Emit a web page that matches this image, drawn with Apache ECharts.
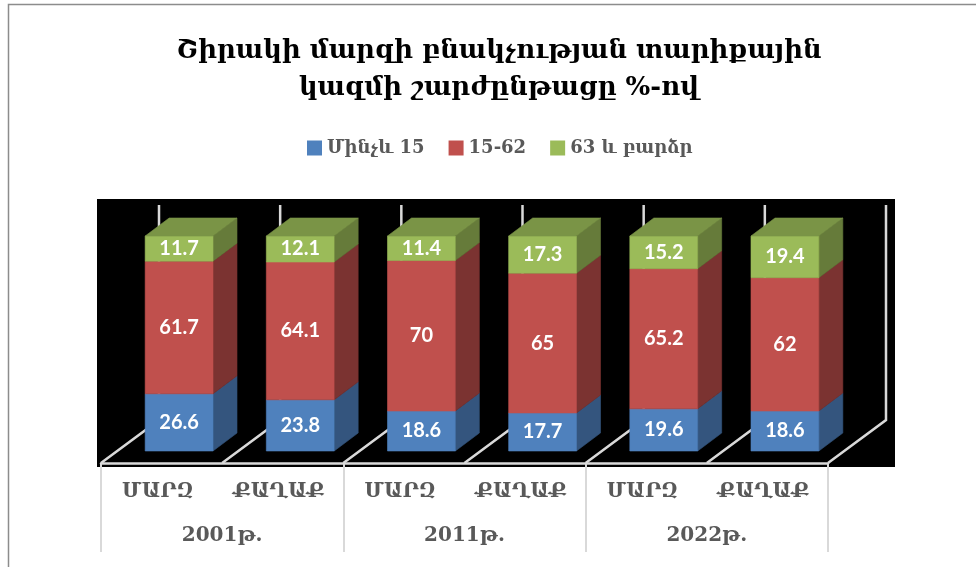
<!DOCTYPE html>
<html>
<head>
<meta charset="utf-8">
<script src="https://cdn.jsdelivr.net/npm/echarts@6/dist/echarts.min.js"></script>
<style>
  html, body { margin: 0; background: #fff; }
  #chart { width: 976px; height: 567px; }
</style>
</head>
<body>
<div id="chart"></div>
<script>
const titleLines = ['Շիրակի մարզի բնակչության տարիքային', 'կազմի շարժընթացը %-ով']
const categories = ['ՄԱՐԶ', 'ՔԱՂԱՔ', 'ՄԱՐԶ', 'ՔԱՂԱՔ', 'ՄԱՐԶ', 'ՔԱՂԱՔ']
const years = ['2001թ.', '2011թ.', '2022թ.']
const seriesNames = ['Մինչև 15', '15-62', '63 և բարձր']
const under15 = [26.6, 23.8, 18.6, 17.7, 19.6, 18.6]
const from15to62 = [61.7, 64.1, 70, 65, 65.2, 62]
const over63 = [11.7, 12.1, 11.4, 17.3, 15.2, 19.4]

const serif = '"DejaVu Serif", serif'
const faces = [
  { front: '#4f81bd', side: '#34557e', top: '#4a6f9e' },
  { front: '#c0504d', side: '#7b3331', top: '#97403d' },
  { front: '#9bbb59', side: '#667b3a', top: '#7a9446' }
]
const wallColor = '#d9d9d9'

// 三维效果：柱子的进深，以及地面相对柱底的偏移
const barDepth = { x: 24, y: 18 }
const floorDepth = { x: 58, y: 43 }
const floorFront = { x: 0, y: 12 }
const barShift = 17.5
const wallTop = 205

function poly(points, color) {
  // 描一圈同色的边，盖住相邻面之间的缝
  return { type: 'polygon', shape: { points }, style: { fill: color, stroke: color, lineWidth: 0.6 } }
}

function renderBar(params, api, face, hasTop) {
  const cat = api.value(0)
  const low = api.coord([cat, api.value(1)])
  const high = api.coord([cat, api.value(2)])
  const width = api.size([1, 0])[0] * 0.56
  const x0 = low[0] - width / 2 + barShift
  const x1 = x0 + width
  const y0 = low[1]
  const y1 = high[1]
  const dx = barDepth.x
  const dy = barDepth.y
  const children = [
    poly([[x1, y0], [x1 + dx, y0 - dy], [x1 + dx, y1 - dy], [x1, y1]], face.side),
    poly([[x0, y0], [x1, y0], [x1, y1], [x0, y1]], face.front)
  ]
  if (hasTop) {
    children.push(poly([[x0, y1], [x1, y1], [x1 + dx, y1 - dy], [x0 + dx, y1 - dy]], face.top))
  }
  children.push({
    type: 'text',
    style: {
      text: String(api.value(3)),
      x: (x0 + x1) / 2,
      y: (y0 + y1) / 2,
      align: 'center',
      verticalAlign: 'middle',
      fill: '#fff',
      font: 'bold 20px Lato, sans-serif'
    }
  })
  return { type: 'group', children }
}

function renderWall(params, api) {
  const cat = api.value(0)
  const point = api.coord([cat, 0])
  const step = api.size([1, 0])[0]
  const floorY = point[1] + floorFront.y
  const edges = cat === categories.length - 1 ? [-step / 2, step / 2] : [-step / 2]
  const children = edges.map(offset => ({
    type: 'polyline',
    shape: {
      points: [
        [point[0] + offset, floorY],
        [point[0] + offset + floorDepth.x, floorY - floorDepth.y],
        [point[0] + offset + floorDepth.x, wallTop]
      ]
    },
    style: { fill: null, stroke: wallColor, lineWidth: 2.5 }
  }))
  return { type: 'group', children }
}

let base = categories.map(() => 0)
const stacks = [under15, from15to62, over63].map(values => {
  const rows = values.map((v, i) => [i, base[i], base[i] + v, v])
  base = base.map((b, i) => b + values[i])
  return rows
})

const chart = echarts.init(document.getElementById('chart'))
chart.setOption({
  animation: false,
  backgroundColor: '#fff',
  title: {
    text: titleLines.join('\n'),
    left: 494,
    top: 28,
    textAlign: 'center',
    textStyle: {
      fontFamily: serif,
      fontSize: 26,
      fontWeight: 'bold',
      lineHeight: 37,
      color: '#000'
    }
  },
  legend: {
    data: seriesNames,
    left: 302,
    top: 134,
    icon: 'rect',
    itemWidth: 15,
    itemHeight: 15,
    itemGap: 24,
    itemStyle: { borderWidth: 0 },
    textStyle: { fontFamily: serif, fontSize: 18, fontWeight: 'bold', color: '#595959' }
  },
  grid: { left: 101, top: 236, width: 727, height: 215 },
  xAxis: [
    {
      type: 'category',
      data: categories,
      position: 'bottom',
      offset: floorFront.y,
      axisLine: { show: false },
      axisTick: { show: false },
      axisLabel: { margin: 19, padding: [0, 8, 0, 0], fontFamily: serif, fontSize: 20, fontWeight: 'bold', color: '#595959' }
    },
    {
      type: 'category',
      data: years,
      position: 'bottom',
      offset: floorFront.y,
      axisLine: { show: true, lineStyle: { color: wallColor, width: 2.5 } },
      axisTick: { show: true, length: 89, lineStyle: { color: wallColor, width: 2 } },
      axisLabel: { margin: 63, fontFamily: serif, fontSize: 20, fontWeight: 'bold', color: '#595959' }
    }
  ],
  yAxis: { type: 'value', min: 0, max: 100, show: false },
  graphic: [
    { type: 'rect', z: -10, shape: { x: 97, y: 199, width: 798, height: 268 }, style: { fill: '#000' } },
    { type: 'polyline', z: -10, shape: { points: [[8.5, 567], [8.5, 4.5], [976, 4.5]] }, style: { fill: null, stroke: '#8c8c8c', lineWidth: 1.5 } }
  ],
  series: [
    {
      type: 'custom',
      name: 'wall',
      z: 1,
      silent: true,
      data: categories.map((c, i) => [i]),
      encode: { x: 0 },
      renderItem: renderWall
    }
  ].concat(seriesNames.map((name, s) => ({
    type: 'custom',
    name,
    z: 3,
    itemStyle: { color: faces[s].front },
    data: stacks[s],
    encode: { x: 0, y: [1, 2] },
    renderItem: (params, api) => renderBar(params, api, faces[s], s === seriesNames.length - 1)
  })))
})
</script>
</body>
</html>
